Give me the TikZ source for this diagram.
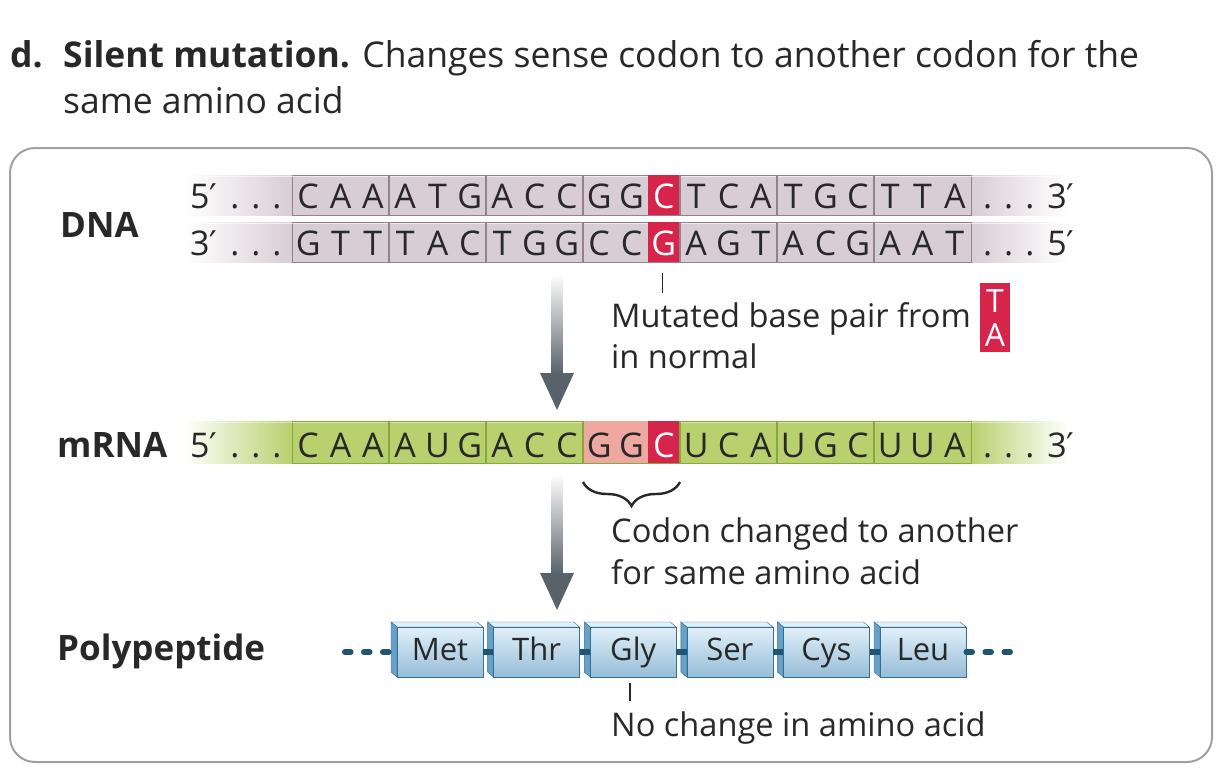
\documentclass[tikz,border=0pt]{standalone}
\usepackage{fontspec}
\setmainfont{Open Sans}
\newfontfamily\primefont{DejaVu Sans}
\usetikzlibrary{decorations.pathreplacing}

\definecolor{ink}{RGB}{40,40,40}
\definecolor{framegray}{RGB}{160,160,160}
\definecolor{dnafill}{RGB}{216,205,212}
\definecolor{dnaline}{RGB}{145,130,140}
\definecolor{rnafill}{RGB}{185,208,110}
\definecolor{rnaline}{RGB}{135,168,65}
\definecolor{mutred}{RGB}{214,36,74}
\definecolor{codonpink}{RGB}{238,168,160}
\definecolor{arrowgray}{RGB}{88,98,106}
\definecolor{pepchain}{RGB}{30,85,115}
\definecolor{pepline}{RGB}{50,110,150}
\definecolor{peptop}{RGB}{225,240,249}
\definecolor{pepside}{RGB}{105,160,200}

\newcommand{\prm}{{\primefont ′}}

\tikzset{
  headtxt/.style={anchor=base west,inner sep=0pt,text=ink,font=\fontsize{35.5}{42}\selectfont},
  bodytxt/.style={anchor=base west,inner sep=0pt,text=ink,font=\fontsize{32.6}{38}\selectfont},
  rowlbl/.style={anchor=base west,inner sep=0pt,text=ink,font=\fontsize{35}{40}\selectfont\bfseries},
  basetxt/.style={anchor=base,inner sep=0pt,text=ink,font=\fontsize{34}{40}\selectfont},
  strand/.style={draw,minimum width=679pt,minimum height=40pt,inner sep=0pt},
  cell/.style={minimum width=32.33pt,minimum height=40pt,inner sep=0pt},
  pepbox/.style={draw=pepline,top color=peptop,bottom color=pepside!70!white,
    minimum width=86pt,minimum height=50pt,inner sep=0pt,text=ink,
    font=\fontsize{31}{36}\selectfont,text height=23pt,text depth=6pt},
  chain/.style={pepchain,line width=5.5pt},
  tick/.style={ink,line width=1.6pt}
}

\begin{document}
\begin{tikzpicture}[x=1pt,y=-1pt]
  \useasboundingbox (0,0) rectangle (1230,780);
  %% Frame
  \draw[framegray,line width=2pt,rounded corners=25pt] (10,148) rectangle (1212,762);
  %% Heading
  \node[headtxt] (hdd) at (10,67) {\textbf{d.}};
  \node[headtxt] (hda) at (63,67) {\textbf{Silent mutation.} Changes sense codon to another codon for the};
  \node[headtxt] (hdb) at (63,113) {same amino acid};

  %% DNA strands
  \foreach \nm/\yc/\sq in {dnat/195/{C,A,A,A,T,G,A,C,C,G,G,C,T,C,A,T,G,C,T,T,A},
                          dnab/242/{G,T,T,T,A,C,T,G,G,C,C,G,A,G,T,A,C,G,A,A,T}} {
    \shade[left color=white,right color=dnafill] (185,\yc-20) rectangle (292,\yc+20);
    \shade[left color=dnafill,right color=white] (971,\yc-20) rectangle (1068,\yc+20);
    \node[strand,fill=dnafill,draw=dnaline] (\nm) at (631.5,\yc) {};
    \draw[white,opacity=0.6,line width=1.5pt] (186,\yc-18.5) -- (1066,\yc-18.5);
    \node[cell,fill=mutred] (\nm m) at (663.83,\yc) {};
    \foreach \k in {1,...,6} \draw[dnaline,line width=1.2pt] (292+97*\k,\yc-20) -- (292+97*\k,\yc+20);
    \foreach \b [count=\i from 0] in \sq {
      \ifnum\i=11
        \node[basetxt,text=white] (\nm\i) at ({308.17+32.333*\i},\yc+13) {\b};
      \else
        \node[basetxt] (\nm\i) at ({308.17+32.333*\i},\yc+13) {\b};
      \fi
    }
  }
  \node[basetxt,anchor=base west] (dnat5) at (190,208) {5\prm\hspace{13pt}.\hspace{12pt}.\hspace{12pt}.};
  \node[basetxt,anchor=base west] (dnat3) at (983,208) {.\hspace{12pt}.\hspace{12pt}.\hspace{13pt}3\prm};
  \node[basetxt,anchor=base west] (dnab3) at (190,255) {3\prm\hspace{13pt}.\hspace{12pt}.\hspace{12pt}.};
  \node[basetxt,anchor=base west] (dnab5) at (983,255) {.\hspace{12pt}.\hspace{12pt}.\hspace{13pt}5\prm};
  \node[rowlbl] (dnalbl) at (60,237) {DNA};

  %% Mutation note
  \draw[tick] ([xshift=-1.5pt]dnabm.south) ++(0,11) -- ++(0,20);
  \node[bodytxt] (mutnote) at (611,327) {Mutated base pair from};
  \node[bodytxt] (mutnote2) at (611,368) {in normal};
  \node[fill=mutred,minimum width=30pt,minimum height=69pt,inner sep=0pt] (tabox) at (995,317.5) {};
  \node[text=white,font=\fontsize{32}{34}\selectfont,inner sep=0pt] (tat) at (995,301) {T};
  \node[text=white,font=\fontsize{32}{34}\selectfont,inner sep=0pt] (taa) at (995,335) {A};

  %% Arrow DNA -> mRNA
  \coordinate (arra) at (557,274);
  \coordinate (arrb) at (557,410);
  \shade[top color=white,bottom color=arrowgray] ([xshift=-5.5pt]arra) rectangle ([xshift=5.5pt,yshift=36pt]arrb);
  \fill[arrowgray] ([xshift=-17pt,yshift=37pt]arrb) -- ([xshift=17pt,yshift=37pt]arrb) -- (arrb) -- cycle;

  %% mRNA strand
  \shade[left color=white,right color=rnafill] (183,421) rectangle (292,463);
  \shade[left color=rnafill,right color=white] (971,421) rectangle (1068,463);
  \node[strand,fill=rnafill,draw=rnaline,minimum height=42pt] (rna) at (631.5,442) {};
  \draw[white,opacity=0.45,line width=1.5pt] (184,422.5) -- (1066,422.5);
  \node[cell,fill=codonpink,minimum width=64.67pt,minimum height=42pt] (rnap) at (615.33,442) {};
  \node[cell,fill=mutred,minimum height=42pt] (rnam) at (663.83,442) {};
  \foreach \k in {1,...,6} \draw[rnaline,line width=1.2pt] (292+97*\k,421) -- (292+97*\k,463);
  \foreach \b [count=\i from 0] in {C,A,A,A,U,G,A,C,C,G,G,C,U,C,A,U,G,C,U,U,A} {
    \ifnum\i=11
      \node[basetxt,text=white] (rna\i) at ({308.17+32.333*\i},457) {\b};
    \else
      \node[basetxt] (rna\i) at ({308.17+32.333*\i},457) {\b};
    \fi
  }
  \node[basetxt,anchor=base west] (rna5) at (190,457) {5\prm\hspace{13pt}.\hspace{12pt}.\hspace{12pt}.};
  \node[basetxt,anchor=base west] (rna3) at (983,457) {.\hspace{12pt}.\hspace{12pt}.\hspace{13pt}3\prm};
  \node[rowlbl] (rnalbl) at (57,457) {mRNA};

  %% Codon note
  \draw[ink,line width=2.4pt,decorate,decoration={brace,amplitude=24pt}] (680,482) -- (583,482);
  \node[bodytxt] (codnote) at (611,542) {Codon changed to another};
  \node[bodytxt] (codnote2) at (611,584) {for same amino acid};

  %% Arrow mRNA -> polypeptide
  \coordinate (arrc) at (557,474);
  \coordinate (arrd) at (557,610);
  \shade[top color=white,bottom color=arrowgray] ([xshift=-5.5pt]arrc) rectangle ([xshift=5.5pt,yshift=36pt]arrd);
  \fill[arrowgray] ([xshift=-17pt,yshift=37pt]arrd) -- ([xshift=17pt,yshift=37pt]arrd) -- (arrd) -- cycle;

  %% Polypeptide
  \node[rowlbl] (peplbl) at (57,660) {Polypeptide};
  \foreach \aa [count=\i from 0] in {Met,Thr,Gly,Ser,Cys,Leu} {
    \pgfmathsetmacro\xl{391+96.6*\i}
    \filldraw[fill=peptop,draw=pepline] (\xl,622) -- (\xl+86,622) -- (\xl+92,627) -- (\xl+6,627) -- cycle;
    \filldraw[fill=pepside,draw=pepline] (\xl,622) -- (\xl+6,627) -- (\xl+6,677) -- (\xl,672) -- cycle;
    \node[pepbox] (aa\i) at (\xl+49,652) {\aa};
  }
  \foreach \i/\j in {0/1,1/2,2/3,3/4,4/5} \draw[chain] (aa\i.east) -- (aa\j.west);
  \draw[chain,line cap=round,dash pattern=on 6pt off 13pt,dash phase=11pt] (aa0.west) -- ++(-60,0);
  \draw[chain,line cap=round,dash pattern=on 6pt off 13pt] (aa5.east) -- ++(50,0);
  \draw[tick] ([xshift=-3pt]aa2.south) ++(0,6) -- ++(0,18);
  \node[bodytxt] (aanote) at (611,736) {No change in amino acid};
\end{tikzpicture}
\end{document}
